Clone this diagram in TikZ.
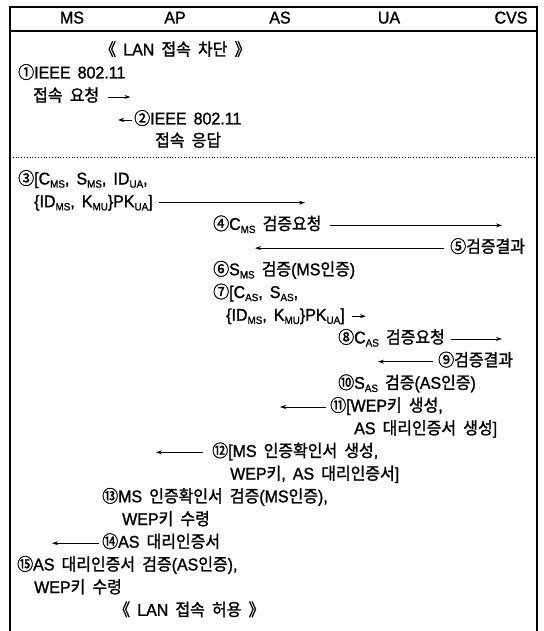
\documentclass[tikz,border=0pt]{standalone}
\usepackage{fontspec}
\setmainfont{Liberation Sans}[WordSpace=1.6,FakeBold=1.3,FakeStretch=0.94]
\newfontfamily\kr{Noto Sans CJK KR}[WordSpace=2.0,FakeBold=1.4,FakeStretch=0.94]
\usetikzlibrary{arrows.meta,calc}
\newcommand\sbx[1]{\raisebox{-0.35ex}{\fontsize{10.5}{10.5}\selectfont #1}}
\newcommand\hk[1]{{\kr #1}}
\begin{document}
\begin{tikzpicture}[x=1pt,y=-1pt,
  txt/.style={anchor=west,inner sep=0pt,text height=12pt,text depth=3pt,font=\fontsize{17}{19}\selectfont},
  hdr/.style={anchor=center,inner sep=0pt,text height=12pt,text depth=3pt,font=\fontsize{17}{19}\selectfont},
  msg/.style={line width=0.8pt,-{Stealth[length=6pt,width=4pt]}},
  frame/.style={line width=1.4pt}]
\useasboundingbox (0,0) rectangle (543,631);
% frame
\draw[frame] (10,7) -- (537,7);
\draw[line width=2.4pt] (10,6.3) -- (10,631);
\draw[line width=1.8pt] (537,6.3) -- (537,631);
\draw[line width=1.2pt] (10,31) -- (537,31);
\draw[line width=0.8pt,dotted] (10,157) -- (537,157);
% header
\node[hdr] (hMS) at (72,19) {MS};
\node[hdr] (hAP) at (175,19) {AP};
\node[hdr] (hAS) at (280,19) {AS};
\node[hdr] (hUA) at (389,19) {UA};
\node[hdr] (hCVS) at (511,19) {CVS};
% association phase
\node[txt] (n0) at (100,51) {\hk{《} LAN \hk{접속 차단 》}};
\node[txt] (n1) at (18,74) {\hk{①}IEEE 802.11};
\node[txt] (n2) at (33,97) {\hk{접속 요청}};
\coordinate (a2s) at ($(n2.east)+(9,0)$); \coordinate (a2e) at ($(n2.east)+(31,0)$);
\draw[msg] (a2s) -- (a2e);
\node[txt] (n3) at (134,120) {\hk{②}IEEE 802.11};
\coordinate (a3s) at ($(n3.west)+(-2,0)$); \coordinate (a3e) at ($(n3.west)+(-16,0)$);
\draw[msg] (a3s) -- (a3e);
\node[txt] (n4) at (155,142) {\hk{접속 응답}};
% authentication phase
\def\Y#1{180+22.7*#1}
\node[txt] (m0) at (18,{\Y{0}}) {\hk{③}[C\sbx{MS}, S\sbx{MS}, ID\sbx{UA},};
\node[txt] (m1) at (34,{\Y{1}}) {\{ID\sbx{MS}, K\sbx{MU}\}PK\sbx{UA}]};
\coordinate (b1s) at ($(m1.east)+(6,0)$); \coordinate (b1e) at (305,{\Y{1}});
\draw[msg] (b1s) -- (b1e);
\node[txt] (m2) at (213,{\Y{2}}) {\hk{④}C\sbx{MS} \hk{검증요청}};
\coordinate (b2s) at ($(m2.east)+(8,0)$); \coordinate (b2e) at (502,{\Y{2}});
\draw[msg] (b2s) -- (b2e);
\node[txt] (m3) at (450,{\Y{3}}) {\hk{⑤검증결과}};
\coordinate (b3s) at ($(m3.west)+(-6,0)$); \coordinate (b3e) at (255,{\Y{3}});
\draw[msg] (b3s) -- (b3e);
\node[txt] (m4) at (213,{\Y{4}}) {\hk{⑥}S\sbx{MS} \hk{검증}(MS\hk{인증})};
\node[txt] (m5) at (213,{\Y{5}}) {\hk{⑦}[C\sbx{AS}, S\sbx{AS},};
\node[txt] (m6) at (226,{\Y{6}}) {\{ID\sbx{MS}, K\sbx{MU}\}PK\sbx{UA}]};
\coordinate (b6s) at ($(m6.east)+(7,0)$); \coordinate (b6e) at ($(m6.east)+(21,0)$);
\draw[msg] (b6s) -- (b6e);
\node[txt] (m7) at (338,{\Y{7}}) {\hk{⑧}C\sbx{AS} \hk{검증요청}};
\coordinate (b7s) at ($(m7.east)+(6,0)$); \coordinate (b7e) at (502,{\Y{7}});
\draw[msg] (b7s) -- (b7e);
\node[txt] (m8) at (438,{\Y{8}}) {\hk{⑨검증결과}};
\coordinate (b8s) at ($(m8.west)+(-5,0)$); \coordinate (b8e) at (378,{\Y{8}});
\draw[msg] (b8s) -- (b8e);
\node[txt] (m9) at (338,{\Y{9}}) {\hk{⑩}S\sbx{AS} \hk{검증}(AS\hk{인증})};
\node[txt] (m10) at (330,{\Y{10}}) {\hk{⑪}[WEP\hk{키 생성},};
\coordinate (b10s) at ($(m10.west)+(-4,0)$); \coordinate (b10e) at (280,{\Y{10}});
\draw[msg] (b10s) -- (b10e);
\node[txt] (m11) at (354,{\Y{11}}) {AS \hk{대리인증서 생성}]};
\node[txt] (m12) at (212,{\Y{12}}) {\hk{⑫}[MS \hk{인증확인서 생성},};
\coordinate (b12s) at ($(m12.west)+(-9,0)$); \coordinate (b12e) at (156,{\Y{12}});
\draw[msg] (b12s) -- (b12e);
\node[txt] (m13) at (230,{\Y{13}}) {WEP\hk{키}, AS \hk{대리인증서}]};
\node[txt] (m14) at (102,{\Y{14}}) {\hk{⑬}MS \hk{인증확인서 검증}(MS\hk{인증}),};
\node[txt] (m15) at (122,{\Y{15}}) {WEP\hk{키 수령}};
\node[txt] (m16) at (102,{\Y{16}}) {\hk{⑭}AS \hk{대리인증서}};
\coordinate (b16s) at ($(m16.west)+(-3,0)$); \coordinate (b16e) at (52,{\Y{16}});
\draw[msg] (b16s) -- (b16e);
\node[txt] (m17) at (17,{\Y{17}}) {\hk{⑮}AS \hk{대리인증서 검증}(AS\hk{인증}),};
\node[txt] (m18) at (34,{\Y{18}}) {WEP\hk{키 수령}};
\node[txt] (m19) at (114,{\Y{19}}) {\hk{《} LAN \hk{접속 허용 》}};
\end{tikzpicture}
\end{document}
